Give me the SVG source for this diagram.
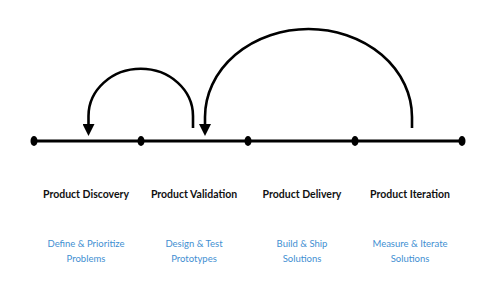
<svg xmlns="http://www.w3.org/2000/svg" width="500" height="300" viewBox="0 0 500 300">
<style>
.title{font-family:Lato,"Liberation Sans",sans-serif;font-size:10.5px;font-weight:700;fill:#111;text-anchor:middle}
.sub{font-family:Lato,"Liberation Sans",sans-serif;font-size:9.5px;font-weight:400;fill:#3f8fd2;text-anchor:middle}
.arc{fill:none;stroke:#000;stroke-width:2.6}
.line{stroke:#000;stroke-width:3}
.dot{fill:#000}
</style>
<defs>
<marker id="ah" viewBox="0 0 12 12" refX="0" refY="6" markerWidth="12" markerHeight="12" markerUnits="userSpaceOnUse" orient="auto">
<path d="M0,0 L12,6 L0,12 Z" fill="#000"/>
</marker>
</defs>
<rect width="500" height="300" fill="#fff"/>
<g id="connectors">
<line class="line" x1="34" y1="141" x2="462" y2="141"/>
<path class="arc" d="M193,128 L193,116 A52,47 0 0 0 88.5,116 L88.5,124" marker-end="url(#ah)"/>
<path class="arc" d="M412,128 L412,117 A103.5,88 0 0 0 205,117 L205,124" marker-end="url(#ah)"/>
</g>
<g id="dot1"><ellipse class="dot" cx="34" cy="141" rx="3.5" ry="5"/></g>
<g id="dot2"><ellipse class="dot" cx="141" cy="141" rx="3.5" ry="5"/></g>
<g id="dot3"><ellipse class="dot" cx="248" cy="141" rx="3.5" ry="5"/></g>
<g id="dot4"><ellipse class="dot" cx="355" cy="141" rx="3.5" ry="5"/></g>
<g id="dot5"><ellipse class="dot" cx="462" cy="141" rx="3.5" ry="5"/></g>
<g id="discovery">
<text class="title" x="86" y="198">Product Discovery</text>
<text class="sub" x="86" y="247">Define &amp; Prioritize</text>
<text class="sub" x="86" y="262">Problems</text>
</g>
<g id="validation">
<text class="title" x="194" y="198">Product Validation</text>
<text class="sub" x="194" y="247">Design &amp; Test</text>
<text class="sub" x="194" y="262">Prototypes</text>
</g>
<g id="delivery">
<text class="title" x="302" y="198">Product Delivery</text>
<text class="sub" x="302" y="247">Build &amp; Ship</text>
<text class="sub" x="302" y="262">Solutions</text>
</g>
<g id="iteration">
<text class="title" x="410" y="198">Product Iteration</text>
<text class="sub" x="410" y="247">Measure &amp; Iterate</text>
<text class="sub" x="410" y="262">Solutions</text>
</g>
</svg>
